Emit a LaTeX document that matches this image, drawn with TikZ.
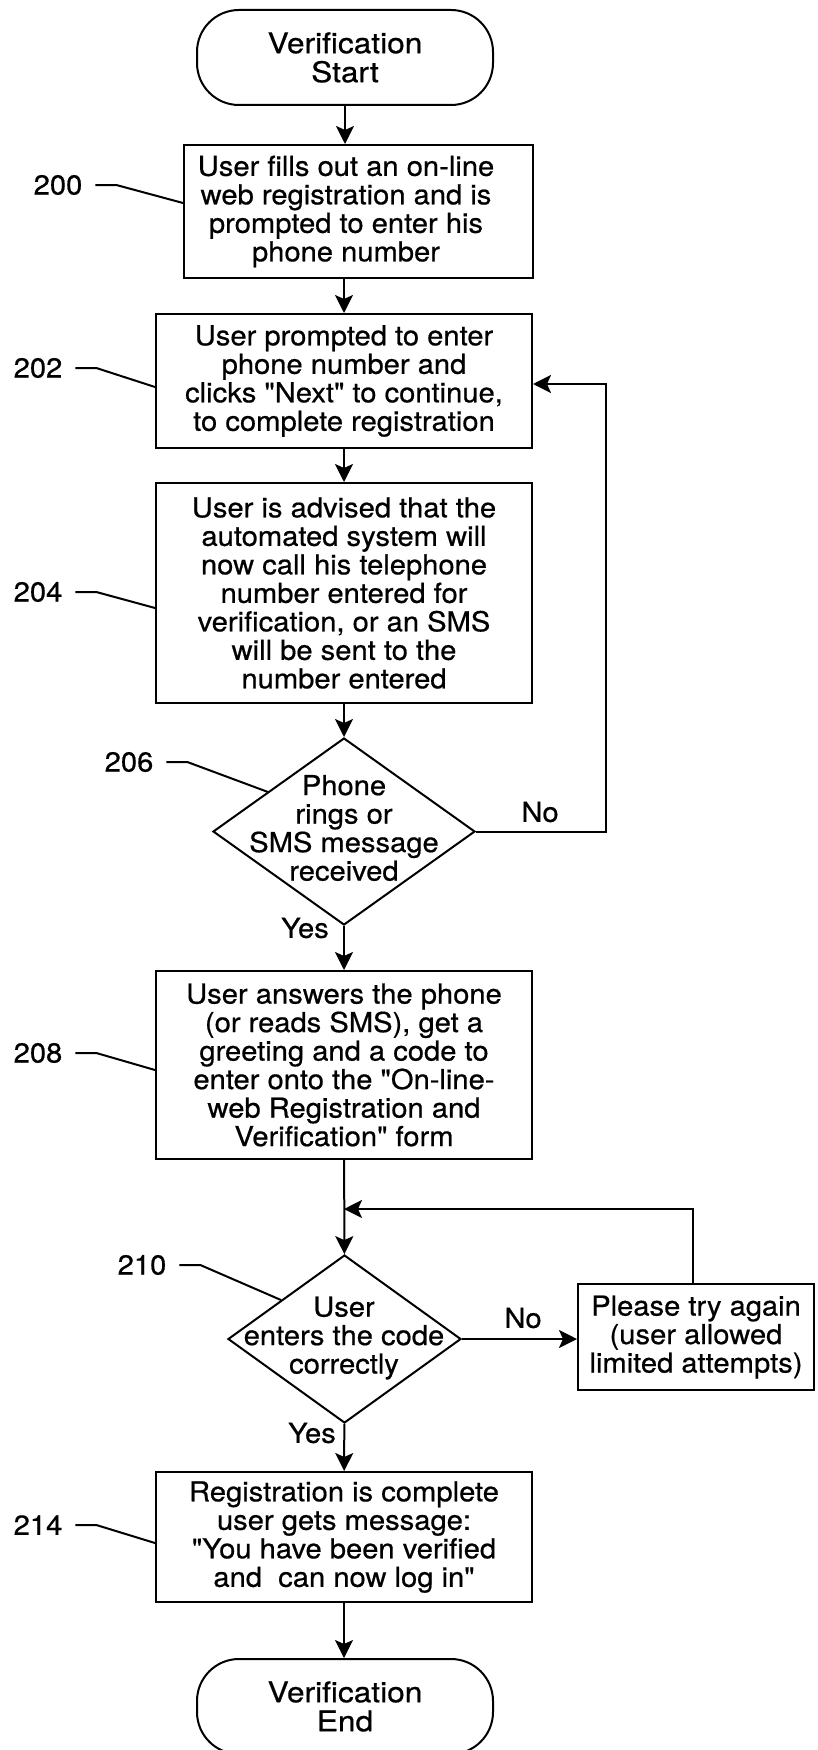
\documentclass[tikz,border=0pt]{standalone}
\usepackage{fontspec}
\newfontfamily\bodyfont{TeX Gyre Heros}[FakeStretch=1.06,FakeBold=0.6]
\newfontfamily\termfont{TeX Gyre Heros}[FakeStretch=1.11,FakeBold=0.6]
\usetikzlibrary{shapes.geometric,arrows.meta}
\begin{document}
\begin{tikzpicture}[x=1pt,y=-1pt,line width=2pt,
  every node/.style={font=\bodyfont\fontsize{27.5}{28.5}\selectfont,inner sep=0pt},
  box/.style={draw,rectangle,align=center},
  term/.style={draw,rectangle,rounded corners=42pt,align=center,
    minimum width=296pt,minimum height=95pt,
    font=\termfont\fontsize{28.5}{29}\selectfont},
  dec/.style={draw,diamond,inner sep=0pt},
  txt/.style={align=center},
  flow/.style={-{Stealth[length=18pt,width=18pt,inset=4pt]}},
  lead/.style={line width=2pt},
]
\useasboundingbox (0,0) rectangle (817,1750);

% terminals and process steps
\node[term] (start) at (345,57.5) {Verification\\Start};
\node[box,minimum width=349pt,minimum height=133pt] (b200) at (358.5,211.5) {};
\node[txt] (t200) at (346,211.5) {User fills out an on-line\\web registration and is\\prompted to enter his\\phone number};
\node[box,minimum width=376pt,minimum height=134pt] (b202) at (344,381)
  {User prompted to enter\\phone number and\\clicks "Next" to continue,\\to complete registration};
\node[box,minimum width=376pt,minimum height=220pt] (b204) at (344,593)
  {User is advised that the\\automated system will\\now call his telephone\\number entered for\\verification, or an SMS\\will be sent to the\\number entered};
\node[dec,minimum width=262pt,minimum height=187pt] (d206) at (344,831.5) {};
\node[txt] (t206) at (344,828) {Phone\\rings or\\SMS message\\received};
\node[box,minimum width=376pt,minimum height=188pt] (b208) at (344,1065)
  {User answers the phone\\(or reads SMS), get a\\greeting and a code to\\enter onto the "On-line-\\web Registration and\\Verification" form};
\node[dec,minimum width=233pt,minimum height=168pt] (d210) at (344.5,1339) {};
\node[txt] (t210) at (344,1338) {User\\enters the code\\correctly};
\node[box,minimum width=236pt,minimum height=106pt] (try) at (696,1337)
  {Please try again\\(user allowed\\limited attempts)};
\node[box,minimum width=376pt,minimum height=130pt] (b214) at (344,1537)
  {Registration is complete\\user gets message:\\"You have been verified\\and\ \ can now log in"};
\node[term] (end) at (345,1706.5) {Verification\\End};

% reference numerals
\node (n200) at (58,185) {200};
\node (n202) at (38,368) {202};
\node (n204) at (38,592) {204};
\node (n206) at (129,762) {206};
\node (n208) at (38,1053) {208};
\node (n210) at (142,1265) {210};
\node (n214) at (38,1525) {214};

% branch labels
\node (no1) at (540,812) {No};
\node (yes1) at (305,928) {Yes};
\node (no2) at (523,1318) {No};
\node (yes2) at (312,1433) {Yes};

% leader lines
\coordinate (p206) at (268,792);
\coordinate (p210) at (281,1300);
\draw[lead] ([xshift=12pt]n200.east) -- ++(21,0) -- ([yshift=8.5pt]b200.west);
\draw[lead] ([xshift=12pt]n202.east) -- ++(21,0) -- ([yshift=-6pt]b202.west);
\draw[lead] ([xshift=12pt]n204.east) -- ++(21,0) -- ([yshift=-15pt]b204.west);
\draw[lead] ([xshift=12pt]n206.east) -- ++(21,0) -- (p206);
\draw[lead] ([xshift=12pt]n208.east) -- ++(21,0) -- ([yshift=-5pt]b208.west);
\draw[lead] ([xshift=12pt]n210.east) -- ++(21,0) -- (p210);
\draw[lead] ([xshift=12pt]n214.east) -- ++(21,0) -- ([yshift=-6pt]b214.west);

% flow connectors
\coordinate (loopR) at (606,600);
\coordinate (merge) at (344,1209);
\draw[flow] (start.south) -- (start.south |- b200.north);
\draw[flow] (b202.north |- b200.south) -- (b202.north);
\draw[flow] (b202) -- (b204);
\draw[flow] (b204) -- (d206);
\draw[flow] (d206.east) -- (d206.east -| loopR) |- ([yshift=-3pt]b202.east);
\draw[flow] (d206) -- (b208);
\draw[flow] (b208) -- (d210);
\draw[flow] ([xshift=-3pt]try.north) |- (merge);
\draw[flow] (d210.east) -- (d210.east -| try.west);
\draw[flow] (d210) -- (b214);
\draw[flow] (b214.south) -- (b214.south |- end.north);
\end{tikzpicture}
\end{document}
